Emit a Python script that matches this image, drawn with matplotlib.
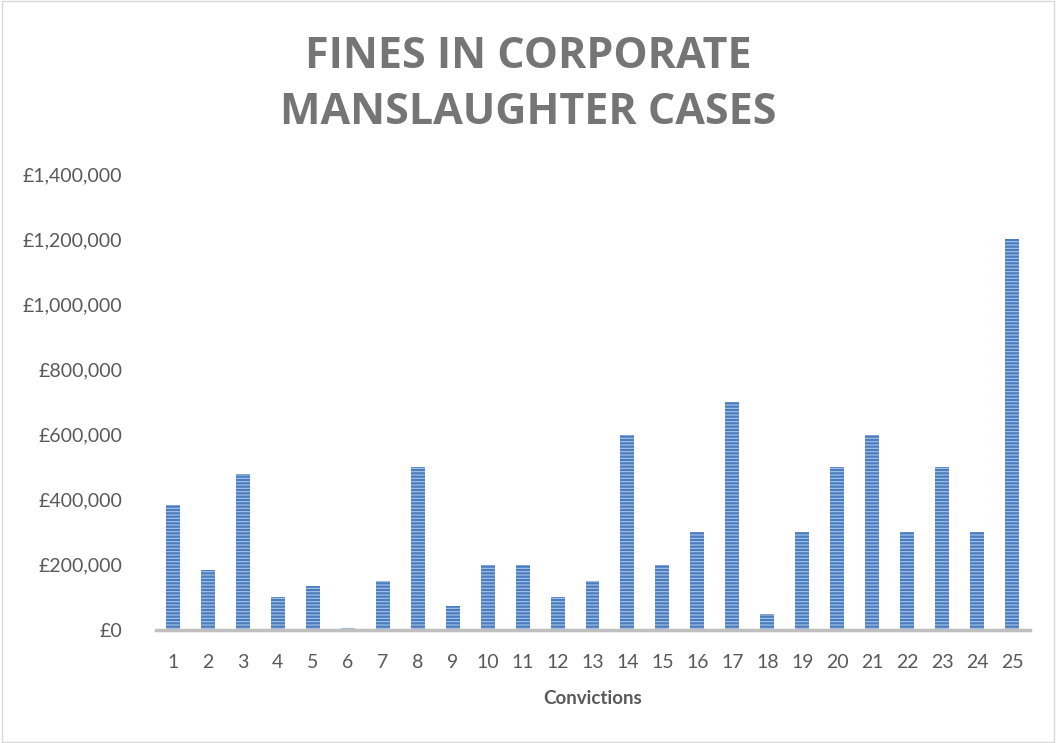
import matplotlib
matplotlib.use("Agg")
import matplotlib.pyplot as plt
from matplotlib.ticker import FuncFormatter
from matplotlib.patches import Rectangle

convictions = list(range(1, 26))
fines = [385000, 185000, 480000, 100000, 135000, 5000, 150000, 500000, 75000,
         200000, 200000, 100000, 150000, 600000, 200000, 300000, 700000, 50000,
         300000, 500000, 600000, 300000, 500000, 300000, 1200000]

plt.rcParams['font.family'] = ['Lato', 'DejaVu Sans']
plt.rcParams['hatch.linewidth'] = 0.8

fig = plt.figure(figsize=(10.56, 7.43), dpi=100)
ax = fig.add_axes([155.5 / 1056, 1 - 630 / 743, 874 / 1056, 456 / 743])

ax.bar(convictions, fines, width=0.4, color='#4A7DC0', edgecolor='#A9C3E6',
       linewidth=0, hatch='-----')

ax.set_xlim(0.5, 25.5)
ax.set_ylim(0, 1400000)
ax.set_yticks(range(0, 1400001, 200000))
ax.yaxis.set_major_formatter(FuncFormatter(lambda v, p: '£{:,.0f}'.format(v)))
ax.set_xticks(convictions)

for s in ['top', 'right', 'left']:
    ax.spines[s].set_visible(False)
ax.spines['bottom'].set_color('#BFBFBF')
ax.spines['bottom'].set_linewidth(2.5)
ax.tick_params(axis='both', length=0, labelsize=14, colors='#595959')
ax.tick_params(axis='y', pad=24)
ax.tick_params(axis='x', pad=17)

ax.set_xlabel('Convictions', fontsize=13.5, fontweight='bold', color='#595959', labelpad=14)

title_font = ['Open Sans', 'DejaVu Sans']
fig.text(0.5, 1 - 56 / 743, 'FINES IN CORPORATE', ha='center', va='center',
         fontsize=31, fontweight='bold', color='#757575', family=title_font)
fig.text(0.5, 1 - 113 / 743, 'MANSLAUGHTER CASES', ha='center', va='center',
         fontsize=31, fontweight='bold', color='#757575', family=title_font)

fig.patches.append(Rectangle((0.002, 0.002), 0.996, 0.996, transform=fig.transFigure,
                             fill=False, edgecolor='#D9D9D9', linewidth=1))

fig.savefig('out.png', dpi=100)
